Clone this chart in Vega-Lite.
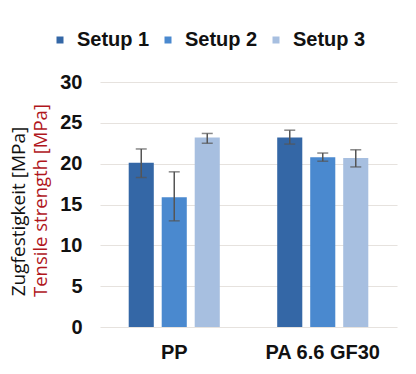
{
  "$schema": "https://vega.github.io/schema/vega-lite/v6.json",
  "autosize": {"type": "none"},
  "width": 297,
  "height": 245,
  "padding": {"left": 100, "top": 82, "right": 19, "bottom": 47},
  "background": "white",
  "config": {"view": {"stroke": null}},
  "data": {
    "values": [
      {"material": "PP", "setup": "Setup 1", "value": 20.1, "lo": 18.3, "hi": 21.8},
      {"material": "PP", "setup": "Setup 2", "value": 15.9, "lo": 13.0, "hi": 19.0},
      {"material": "PP", "setup": "Setup 3", "value": 23.2, "lo": 22.5, "hi": 23.7},
      {"material": "PA 6.6 GF30", "setup": "Setup 1", "value": 23.2, "lo": 22.4, "hi": 24.1},
      {"material": "PA 6.6 GF30", "setup": "Setup 2", "value": 20.8, "lo": 20.3, "hi": 21.3},
      {"material": "PA 6.6 GF30", "setup": "Setup 3", "value": 20.7, "lo": 19.6, "hi": 21.7}
    ]
  },
  "encoding": {
    "x": {
      "field": "material", "type": "nominal", "sort": ["PP", "PA 6.6 GF30"],
      "scale": {"paddingInner": 0, "paddingOuter": 0},
      "axis": {"title": null, "labelAngle": 0, "domain": false, "ticks": false, "labelPadding": 15,
               "labelFont": "Liberation Sans", "labelFontWeight": "bold", "labelFontSize": 20, "labelColor": "#111"}
    },
    "xOffset": {
      "field": "setup", "type": "nominal",
      "scale": {"paddingInner": 0.24, "paddingOuter": 0.87}
    }
  },
  "layer": [
    {
      "mark": {"type": "bar"},
      "encoding": {
        "y": {
          "field": "value", "type": "quantitative", "scale": {"domain": [0, 30]},
          "axis": {
            "orient": "left", "values": [0, 5, 10, 15, 20, 25, 30],
            "domain": false, "ticks": false, "grid": true, "gridColor": "#e6e2de", "gridWidth": 1.2,
            "labelPadding": 18, "labelFont": "Liberation Sans", "labelFontWeight": "bold", "labelFontSize": 20, "labelColor": "#111",
            "title": "Tensile strength [MPa]", "titleColor": "#b0161c", "titleFont": "Open Sans", "titleFontSize": 18.5,
            "titleFontWeight": "normal", "titleX": -50, "titleY": 118
          }
        },
        "color": {
          "field": "setup", "type": "nominal",
          "scale": {"domain": ["Setup 1", "Setup 2", "Setup 3"], "range": ["#3467a6", "#4a89cf", "#a7bfe0"]},
          "legend": {
            "title": null, "orient": "none", "direction": "horizontal", "legendX": -50, "legendY": -52,
            "symbolType": "square", "symbolSize": 49, "symbolStrokeWidth": 0, "labelOffset": 7, "columnPadding": 8,
            "labelFont": "Liberation Sans", "labelFontWeight": "bold", "labelFontSize": 20, "labelColor": "#111"
          }
        }
      }
    },
    {
      "mark": {"type": "rule", "color": "#555", "strokeWidth": 1.5},
      "encoding": {
        "y": {
          "field": "lo", "type": "quantitative", "scale": {"domain": [0, 30]},
          "axis": {
            "orient": "left", "labels": false, "ticks": false, "domain": false, "grid": false,
            "title": "Zugfestigkeit [MPa]", "titleColor": "#111", "titleFont": "Open Sans", "titleFontSize": 19,
            "titleFontWeight": "normal", "titleX": -72, "titleY": 129
          }
        },
        "y2": {"field": "hi"}
      }
    },
    {
      "mark": {"type": "tick", "color": "#555", "thickness": 1.5, "size": 11},
      "encoding": {"y": {"field": "lo", "type": "quantitative", "axis": null}}
    },
    {
      "mark": {"type": "tick", "color": "#555", "thickness": 1.5, "size": 11},
      "encoding": {"y": {"field": "hi", "type": "quantitative", "axis": null}}
    }
  ],
  "resolve": {"axis": {"y": "independent"}}
}
